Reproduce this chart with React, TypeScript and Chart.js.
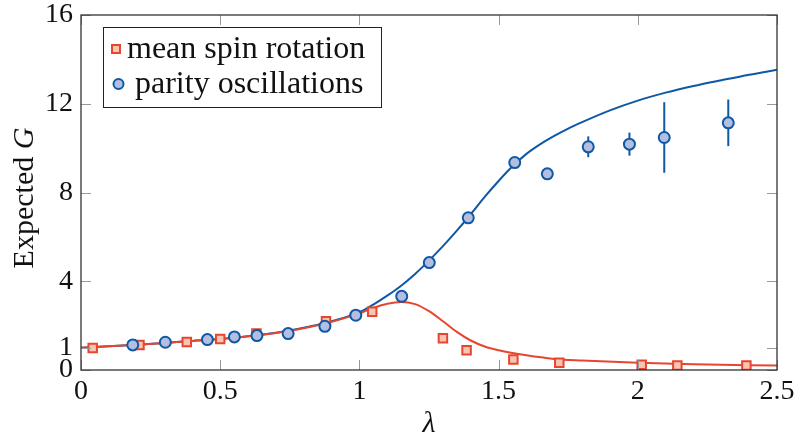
import React, { useEffect, useRef } from "react";
import { Chart, registerables } from "chart.js";

Chart.register(...registerables);

// Fitted model curves
const blueCurveX = [0, 0.1, 0.2, 0.3, 0.4, 0.5, 0.6, 0.7, 0.8, 0.9, 1.0, 1.05, 1.1, 1.15, 1.2, 1.25, 1.3, 1.35, 1.4, 1.45, 1.5, 1.55, 1.6, 1.65, 1.7, 1.75, 1.8, 1.9, 2.0, 2.1, 2.2, 2.3, 2.4, 2.5];
const blueCurveY = [1.0, 1.07, 1.14, 1.22, 1.31, 1.4, 1.52, 1.68, 1.9, 2.2, 2.6, 2.95, 3.35, 3.8, 4.33, 4.93, 5.58, 6.28, 7.02, 7.8, 8.52, 9.18, 9.74, 10.18, 10.55, 10.88, 11.17, 11.7, 12.14, 12.5, 12.8, 13.06, 13.31, 13.53];

const redCurveX = [0, 0.1, 0.2, 0.3, 0.4, 0.5, 0.6, 0.7, 0.8, 0.9, 1.0, 1.05, 1.1, 1.15, 1.2, 1.25, 1.3, 1.35, 1.4, 1.45, 1.5, 1.6, 1.7, 1.8, 2.0, 2.2, 2.5];
const redCurveY = [1.0, 1.07, 1.14, 1.22, 1.31, 1.4, 1.52, 1.67, 1.88, 2.17, 2.55, 2.8, 2.99, 3.07, 2.97, 2.65, 2.2, 1.72, 1.33, 1.06, 0.89, 0.66, 0.5, 0.43, 0.33, 0.26, 0.2];

// Mean spin rotation (squares)
const spinX = [0.042, 0.21, 0.38, 0.5, 0.63, 0.88, 1.046, 1.3, 1.385, 1.553, 1.718, 2.014, 2.142, 2.39];
const spinY = [0.99, 1.13, 1.26, 1.4, 1.64, 2.2, 2.63, 1.43, 0.89, 0.47, 0.33, 0.24, 0.2, 0.2];

// Parity oscillations (circles) with error bars
const parityX = [0.186, 0.303, 0.454, 0.551, 0.632, 0.744, 0.876, 0.987, 1.152, 1.251, 1.391, 1.558, 1.675, 1.822, 1.97, 2.095, 2.325];
const parityY = [1.13, 1.25, 1.37, 1.49, 1.55, 1.64, 1.97, 2.47, 3.32, 4.84, 6.86, 9.35, 8.84, 10.06, 10.18, 10.48, 11.14];
const parityErr = [0, 0, 0, 0, 0, 0, 0, 0, 0, 0, 0, 0, 0, 0.47, 0.52, 1.59, 1.05];

const xTicks = [0, 0.5, 1, 1.5, 2, 2.5];
const yTicks = [0, 1, 4, 8, 12, 16];

const legendLabels = ["mean spin rotation", "parity oscillations"];
const xTitle = "λ";
const yTitleMain = "Expected ";
const yTitleVar = "G";

const BLUE = "#0f58a4";
const BLUE_FILL = "#b3bee0";
const RED = "#e6462f";
const RED_FILL = "#f8c5b2";
const FONT = "'Liberation Serif', 'DejaVu Serif', serif";

const pts = (xs: number[], ys: number[]) => xs.map((x, i) => ({ x, y: ys[i] }));

const decorPlugin = {
  id: "decor",
  beforeDatasetsDraw(chart: any) {
    const { ctx } = chart;
    const xs = chart.scales.x;
    const ys = chart.scales.y;
    ctx.save();
    ctx.strokeStyle = BLUE;
    ctx.lineWidth = 2;
    parityX.forEach((x, i) => {
      const e = parityErr[i];
      if (!e) return;
      const px = xs.getPixelForValue(x);
      ctx.beginPath();
      ctx.moveTo(px, ys.getPixelForValue(parityY[i] - e));
      ctx.lineTo(px, ys.getPixelForValue(parityY[i] + e));
      ctx.stroke();
    });
    ctx.restore();
  },
  afterDraw(chart: any) {
    const { ctx, chartArea: a } = chart;
    const xs = chart.scales.x;
    const ys = chart.scales.y;
    ctx.save();
    // tick marks (inside, mirrored)
    ctx.strokeStyle = "#999";
    ctx.lineWidth = 1;
    const tl = 10;
    xTicks.forEach((v) => {
      const px = Math.round(xs.getPixelForValue(v)) + 0.5;
      ctx.beginPath();
      ctx.moveTo(px, a.bottom);
      ctx.lineTo(px, a.bottom - tl);
      ctx.moveTo(px, a.top);
      ctx.lineTo(px, a.top + tl);
      ctx.stroke();
    });
    yTicks.forEach((v) => {
      const py = Math.round(ys.getPixelForValue(v)) + 0.5;
      ctx.beginPath();
      ctx.moveTo(a.left, py);
      ctx.lineTo(a.left + tl, py);
      ctx.moveTo(a.right, py);
      ctx.lineTo(a.right - tl, py);
      ctx.stroke();
    });
    // frame
    ctx.strokeStyle = "#333";
    ctx.lineWidth = 1.3;
    ctx.strokeRect(a.left, a.top, a.right - a.left, a.bottom - a.top);

    // legend
    const lx = a.left + 22.5;
    const ly = a.top + 12.5;
    const lw = 278;
    const lh = 80;
    ctx.fillStyle = "#fff";
    ctx.fillRect(lx, ly, lw, lh);
    ctx.strokeStyle = "#222";
    ctx.lineWidth = 1;
    ctx.strokeRect(lx, ly, lw, lh);
    // square marker
    ctx.fillStyle = RED_FILL;
    ctx.strokeStyle = RED;
    ctx.lineWidth = 2;
    ctx.fillRect(lx + 8.5, ly + 17.5, 8, 8);
    ctx.strokeRect(lx + 8.5, ly + 17.5, 8, 8);
    // circle marker
    ctx.fillStyle = BLUE_FILL;
    ctx.strokeStyle = BLUE;
    ctx.beginPath();
    ctx.arc(lx + 15, ly + 56.5, 5, 0, Math.PI * 2);
    ctx.fill();
    ctx.stroke();
    ctx.fillStyle = "#111";
    ctx.font = `32px ${FONT}`;
    ctx.textBaseline = "alphabetic";
    ctx.textAlign = "left";
    ctx.fillText(legendLabels[0], lx + 23.5, ly + 30);
    ctx.fillText(legendLabels[1], lx + 31.5, ly + 65);

    // axis titles
    ctx.textAlign = "center";
    ctx.font = `italic 30px ${FONT}`;
    ctx.fillText(xTitle, (a.left + a.right) / 2, 432);
    ctx.font = `30px ${FONT}`;
    const w1 = ctx.measureText(yTitleMain).width;
    ctx.font = `italic 30px ${FONT}`;
    const w2 = ctx.measureText(yTitleVar).width;
    const total = w1 + w2;
    ctx.translate(33, 198);
    ctx.rotate(-Math.PI / 2);
    ctx.textAlign = "left";
    ctx.font = `30px ${FONT}`;
    ctx.fillText(yTitleMain, -total / 2, 0);
    ctx.font = `italic 30px ${FONT}`;
    ctx.fillText(yTitleVar, -total / 2 + w1, 0);
    ctx.restore();
  },
};

export default function App() {
  const ref = useRef<HTMLCanvasElement | null>(null);
  useEffect(() => {
    document.body.style.margin = "0";
    if (!ref.current) return;
    const chart = new Chart(ref.current, {
      type: "scatter",
      data: {
        datasets: [
          {
            type: "scatter",
            label: legendLabels[1],
            data: pts(parityX, parityY),
            pointStyle: "circle",
            pointRadius: 5.5,
            pointBackgroundColor: BLUE_FILL,
            pointBorderColor: BLUE,
            pointBorderWidth: 2,
            order: 0,
          },
          {
            type: "scatter",
            label: legendLabels[0],
            data: pts(spinX, spinY),
            pointStyle: "rect",
            pointRadius: 6,
            pointBackgroundColor: RED_FILL,
            pointBorderColor: RED,
            pointBorderWidth: 2,
            order: 1,
          },
          {
            type: "line",
            label: "spin fit",
            data: pts(redCurveX, redCurveY),
            borderColor: RED,
            borderWidth: 2,
            pointRadius: 0,
            cubicInterpolationMode: "monotone",
            fill: false,
            order: 2,
          },
          {
            type: "line",
            label: "parity fit",
            data: pts(blueCurveX, blueCurveY),
            borderColor: BLUE,
            borderWidth: 2,
            pointRadius: 0,
            cubicInterpolationMode: "monotone",
            fill: false,
            order: 3,
          },
        ] as any,
      },
      options: {
        animation: false,
        responsive: false,
        devicePixelRatio: 1,
        layout: { padding: { top: 15, right: 19, left: 0, bottom: 0 } },
        plugins: { legend: { display: false }, tooltip: { enabled: false } },
        scales: {
          x: {
            type: "linear",
            min: 0,
            max: 2.5,
            afterBuildTicks: (s: any) => {
              s.ticks = xTicks.map((v) => ({ value: v }));
            },
            afterFit: (s: any) => {
              s.height = 69;
              s.paddingLeft = 0;
              s.paddingRight = 0;
            },
            grid: { display: false, drawTicks: false },
            border: { display: false },
            ticks: {
              color: "#111",
              padding: 5,
              maxRotation: 0,
              autoSkip: false,
              font: { family: FONT, size: 28 },
              callback: (v: any) => String(v),
            },
          },
          y: {
            type: "linear",
            min: 0,
            max: 16,
            afterBuildTicks: (s: any) => {
              s.ticks = yTicks.map((v) => ({ value: v }));
            },
            afterFit: (s: any) => {
              s.width = 81;
              s.paddingTop = 0;
              s.paddingBottom = 0;
            },
            grid: { display: false, drawTicks: false },
            border: { display: false },
            ticks: {
              color: "#111",
              padding: 8,
              autoSkip: false,
              font: { family: FONT, size: 28 },
              callback: (v: any) => String(v),
            },
          },
        },
      } as any,
      plugins: [decorPlugin],
    });
    return () => chart.destroy();
  }, []);
  return (
    <div style={{ width: 796, height: 439 }}>
      <canvas ref={ref} width={796} height={439} style={{ display: "block", width: 796, height: 439 }} />
    </div>
  );
}
